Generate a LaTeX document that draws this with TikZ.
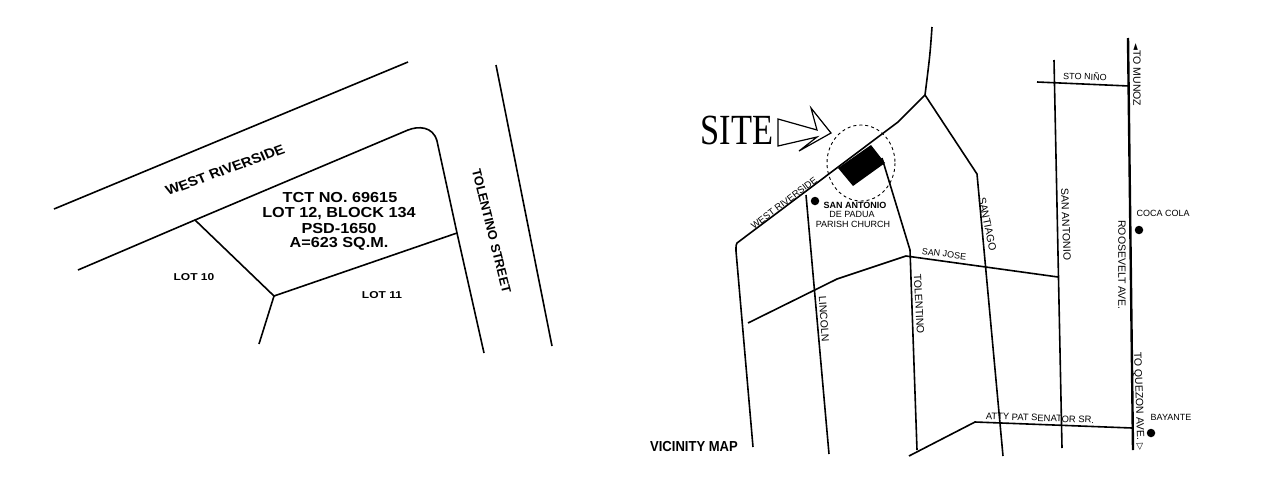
\documentclass[tikz,border=0pt]{standalone}
\usepackage{fontspec}
\setmainfont{Liberation Sans}
\newfontfamily\sitefont{Liberation Serif}
\newfontfamily\symfont{DejaVu Sans}
\newcommand{\fs}[1]{\fontsize{#1}{#1}\selectfont}
\tikzset{
  road/.style={draw,line width=1.6pt},
  mainroad/.style={draw,line width=2.4pt},
  lotline/.style={draw,line width=1.6pt},
  lotinfo/.style={font=\fs{14.5}\bfseries,inner sep=0pt,xscale=1.12},
  lotname/.style={font=\fs{10}\bfseries,inner sep=0pt,xscale=1.2},
  streetbig/.style={font=\fs{13.5}\bfseries,inner sep=0pt},
  street/.style={font=\fs{9},inner sep=0pt},
  longstreet/.style={font=\fs{10.5},inner sep=0pt},
  landmark/.style={circle,fill=black,inner sep=0pt,minimum size=8.5pt}
}
\begin{document}
\begin{tikzpicture}[x=1pt,y=-1pt]

      \useasboundingbox (0,0) rectangle (1269,493);

      \coordinate (ta) at (54,209);
      \coordinate (tb) at (408,62);
      \coordinate (ra) at (496,65);
      \coordinate (rb) at (552,346);
      \coordinate (wa) at (78,270);
      \coordinate (wb) at (195,220);
      \coordinate (wc) at (408,130);
      \coordinate (wd) at (437,141);
      \coordinate (we) at (457,233);
      \coordinate (wf) at (484,353);
      \coordinate (lc) at (274,296);
      \coordinate (ld) at (259,344);

      \path[road] (ta) -- (tb);
      \path[road] (ra) -- (rb);
      \path[road] (wa) -- (wb) -- (wc) .. controls (418,126) and (433,126) .. (wd) -- (we) -- (wf);
      \path[lotline] (wb) -- (lc) -- (ld);
      \path[lotline] (lc) -- (we);

      \begin{scope}[every node/.style={lotinfo}]
        \node (tct)  at (340,198) {TCT NO. 69615};
        \node (lot)  at (339,213.5) {LOT 12, BLOCK 134};
        \node (psd)  at (339,229) {PSD-1650};
        \node (area) at (339,243.5) {A=623 SQ.M.};
      \end{scope}

      \node[lotname] (lot10) at (194,277) {LOT 10};
      \node[lotname] (lot11) at (382,295) {LOT 11};
      \node[streetbig,xscale=1.1,rotate=22] (westbig) at (225,170) {WEST RIVERSIDE};
      \node[streetbig,font=\fs{12.8}\bfseries,rotate=-76] (tolbig) at (491.5,231) {TOLENTINO STREET};

      \coordinate (ja) at (932,27);
      \coordinate (jb) at (925,95);
      \coordinate (jc) at (898,122);
      \coordinate (jd) at (737,243);
      \coordinate (je) at (736,251);
      \coordinate (jf) at (753,447);
      \coordinate (sa) at (977,174);
      \coordinate (sb) at (1003,456);
      \coordinate (aa) at (1054,60);
      \coordinate (ab) at (1062,448);
      \coordinate (ma) at (1128,38);
      \coordinate (mb) at (1133,450);
      \coordinate (na) at (1037,82);
      \coordinate (nb) at (1129,86);
      \coordinate (ha) at (748,323);
      \coordinate (hb) at (837,279);
      \coordinate (hc) at (906,256);
      \coordinate (hd) at (1058,277);
      \coordinate (ca) at (806,195);
      \coordinate (cb) at (829,454);
      \coordinate (oa) at (882,158);
      \coordinate (ob) at (910,250);
      \coordinate (oc) at (917,450);
      \coordinate (pa) at (909,456);
      \coordinate (pb) at (975,422);
      \coordinate (pc) at (1132,428);

      \path[road] (ja) .. controls (930,55) .. (jb);
      \path[road] (jb) .. controls (915,105) .. (jc) -- (jd) .. controls (736,245) .. (je) -- (jf);
      \path[road] (jb) -- (sa) -- (sb);
      \path[road] (aa) -- (ab);
      \path[mainroad] (ma) -- (mb);
      \path[road] (na) -- (nb);
      \path[road] (ha) -- (hb) -- (hc) -- (hd);
      \path[road] (ca) -- (cb);
      \path[road] (oa) -- (ob) -- (oc);
      \path[road] (pa) -- (pb) -- (pc);

      \fill (838,168) -- (871,145) -- (885,163) -- (853,186) -- cycle;
      \draw[dashed,line width=0.9pt] (861,163) ellipse [x radius=34,y radius=38];
      \draw[line width=1.2pt,line join=miter] (778,119) -- (817,130) -- (811,108) -- (831,133)
        -- (799,151) -- (817,137) -- (778,146) -- cycle;

      \node[font=\fs{43}\sitefont,inner sep=0pt,xscale=0.8] (site) at (737,130) {SITE};

      \node[landmark] (church) at (815,201) {};
      \node[landmark] (coca) at (1139,230) {};
      \node[landmark] (bayante) at (1151,433) {};

      \begin{scope}[every node/.style={street}]
        \node[font=\fs{9.3},rotate=37] (west) at (784,203) {WEST RIVERSIDE};
        \node[font=\fs{9}\bfseries] (ant) at (855,205) {SAN ANTONIO};
        \node (padua) at (852,214.5) {DE PADUA};
        \node (parish) at (853,224) {PARISH CHURCH};
        \node[rotate=-7] (jose) at (944,254) {SAN JOSE};
        \node[rotate=-2] (nino) at (1085,76) {STO NIÑO};
        \node (cola) at (1163,213) {COCA COLA};
        \node (baya) at (1171,417) {BAYANTE};
        \node[font=\fs{9.4},rotate=-2] (atty) at (1040,418) {ATTY PAT SENATOR SR.};
        \node[font=\fs{14.5}\bfseries,xscale=0.9] (vic) at (694,447) {VICINITY MAP};
      \end{scope}

      \begin{scope}[every node/.style={longstreet}]
        \node[rotate=-78] (sant) at (987.5,224) {SANTIAGO};
        \node[rotate=-88] (santo) at (1066,224) {SAN ANTONIO};
        \node[rotate=-90] (roose) at (1122,265) {ROOSEVELT AVE.};
        \node[rotate=-90] (munoz) at (1137,75) {{\symfont\fs{9}◄}TO MUNOZ};
        \node[rotate=-88] (quezon) at (1138.5,401) {TO QUEZON AVE. {\symfont\fs{9}▷}};
        \node[rotate=-86] (linc) at (824,319) {LINCOLN};
        \node[rotate=-87] (tole) at (919,304) {TOLENTINO};
      \end{scope}

    \end{tikzpicture}
\end{document}
